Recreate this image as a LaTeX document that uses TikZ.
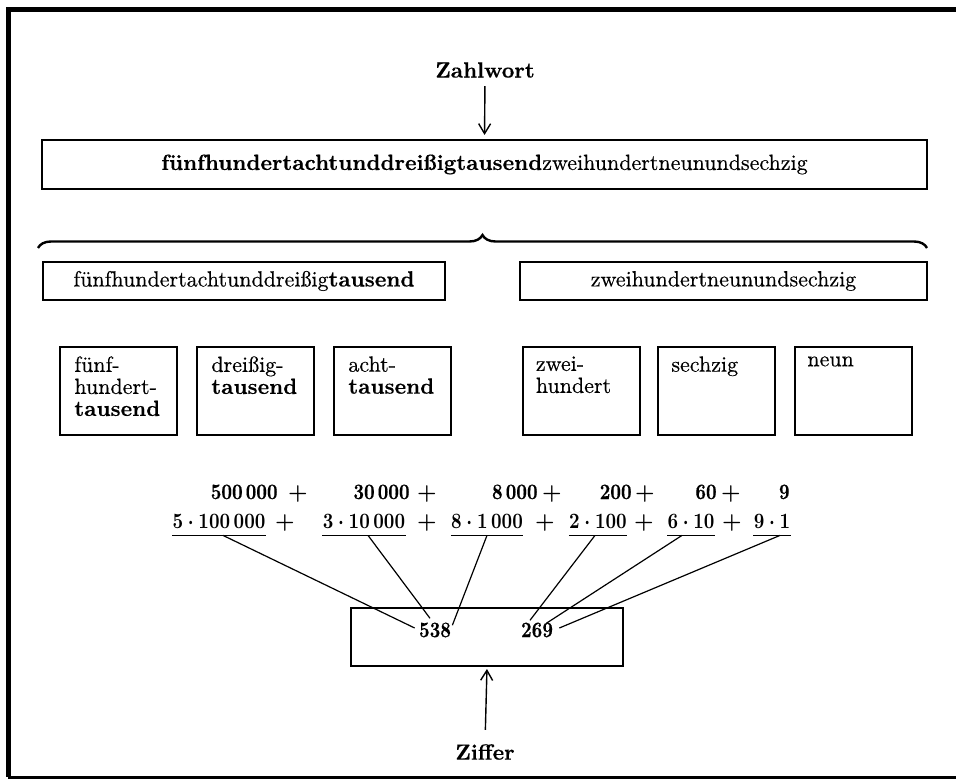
\documentclass[tikz,border=0pt]{standalone}
\usepackage{fontspec}
\newfontfamily\medf{Latin Modern Roman}[FakeBold=0.4]
\newcommand\bt[1]{{\bfseries #1}}
\newcommand\nx[1]{\scalebox{0.84}[1]{#1}}
\usetikzlibrary{arrows.meta,decorations.pathreplacing}
\begin{document}
\begin{tikzpicture}[x=0.5pt,y=-0.5pt,
  box/.style={draw,line width=1pt,inner sep=0pt},
  txt/.style={font=\medf\fontsize{11}{11}\selectfont,inner sep=0pt},
  btxt/.style={font=\medf\fontsize{11}{11}\selectfont\bfseries,inner sep=0pt},
  num/.style={font=\medf\fontsize{11}{12}\selectfont\bfseries\boldmath,inner sep=0pt},
  conn/.style={line width=0.6pt},
  uline/.style={line width=0.9pt},
  arr/.style={line width=0.7pt,-{Straight Barb[length=5pt,width=6pt]}}]
\useasboundingbox (0,0) rectangle (956,779);
% frame
\draw[line width=2.5pt] (956,10) -- (8,10) -- (8,777);
\draw[line width=1.5pt] (8,777) -- (956,777);
% top
\node[btxt] (zw) at (485,70) {Zahlwort};
\node[box,txt,minimum width=442.5pt,minimum height=24.5pt] (big) at (484.5,164.5)
  {\bt{fünfhundertachtunddreißigtausend}zweihundertneunundsechzig};
\draw[arr,shorten <=4pt,shorten >=2pt] (zw.south) -- (big.north);
% brace
\coordinate (bl) at (38,248);
\coordinate (br) at (927,248);
\draw[decorate,decoration={brace,amplitude=6.5pt},line width=1.2pt] (bl) -- (br);
% middle boxes
\node[box,txt,minimum width=201pt,minimum height=19pt] (left) at (244,281)
  {fünfhundertachtunddreißig\bt{tausend}};
\node[box,txt,minimum width=203.5pt,minimum height=19pt] (right) at (723.5,281)
  {zweihundertneunundsechzig};
% small boxes
\foreach \n/\x in {s1/118.5,s2/255.5,s3/392.5,s4/581,s5/716.5,s6/853.5}
  \node[box,minimum width=58.5pt,minimum height=44pt] (\n) at (\x,391) {};
\node[txt,anchor=north west,align=left] (w1) at ([shift={(15,10)}]s1.north west) {fünf-\\hundert-\\\bt{tausend}};
\node[txt,anchor=north west,align=left] (w2) at ([shift={(15,10)}]s2.north west) {dreißig-\\\bt{tausend}};
\node[txt,anchor=north west,align=left] (w3) at ([shift={(15,10)}]s3.north west) {acht-\\\bt{tausend}};
\node[txt,anchor=north west,align=left] (w4) at ([shift={(14,10)}]s4.north west) {zwei-\\hundert};
\node[txt,anchor=north west,align=left] (w5) at ([shift={(14,10)}]s5.north west) {sechzig};
\node[txt,anchor=north west,align=left] (w6) at ([shift={(13,10)}]s6.north west) {neun};
% row 1
\node[num,anchor=base east] (a1) at (278,499) {\nx{500\,000}};
\node[num,anchor=base] (p1) at (298,499) {$+$};
\node[num,anchor=base east] (a2) at (410,499) {\nx{30\,000}};
\node[num,anchor=base] (p2) at (427,499) {$+$};
\node[num,anchor=base east] (a3) at (538,499) {\nx{8\,000}};
\node[num,anchor=base] (p3) at (552,499) {$+$};
\node[num,anchor=base east] (a4) at (632,499) {\nx{200}};
\node[num,anchor=base] (p4) at (645,499) {$+$};
\node[num,anchor=base east] (a5) at (717,499) {\nx{60}};
\node[num,anchor=base] (p5) at (731,499) {$+$};
\node[num,anchor=base east] (a6) at (790,499) {\nx{9}};
% row 2
\node[num,anchor=base] (t1) at (219,528) {\nx{$5\cdot 100\,000$}};
\node[num,anchor=base] (q1) at (285,528) {$+$};
\node[num,anchor=base] (t2) at (364,528) {\nx{$3\cdot 10\,000$}};
\node[num,anchor=base] (q2) at (427,528) {$+$};
\node[num,anchor=base] (t3) at (487,528) {\nx{$8\cdot 1\,000$}};
\node[num,anchor=base] (q3) at (545,528) {$+$};
\node[num,anchor=base] (t4) at (598,528) {\nx{$2\cdot 100$}};
\node[num,anchor=base] (q4) at (644,528) {$+$};
\node[num,anchor=base] (t5) at (691,528) {\nx{$6\cdot 10$}};
\node[num,anchor=base] (q5) at (732,528) {$+$};
\node[num,anchor=base] (t6) at (772,528) {\nx{$9\cdot 1$}};
% underlines
\foreach \t in {t1,t2,t3,t4,t5,t6}
  \draw[uline] ([yshift=-3.5pt]\t.south west) -- ([yshift=-3.5pt]\t.south east);
\coordinate (u1) at ([shift={(4,7)}]t1.south);
\coordinate (u2) at ([shift={(4,7)}]t2.south);
\coordinate (u3) at ([shift={(0,7)}]t3.south);
\coordinate (u4) at ([shift={(-3,7)}]t4.south);
\coordinate (u5) at ([shift={(-9,7)}]t5.south);
\coordinate (u6) at ([shift={(8,7)}]t6.south);
% bottom box
\node[box,minimum width=136pt,minimum height=29pt] (zbox) at (487,637) {};
\node[num] (n538) at (435,630) {\nx{538}};
\node[num] (n269) at (537,630) {\nx{269}};
\draw[conn] (u1) -- ([shift={(-4,-2)}]n538.west);
\draw[conn] (u2) -- ([shift={(-5,-4)}]n538.north);
\draw[conn] (u3) -- ([shift={(1,3)}]n538.north east);
\draw[conn] (u4) -- ([shift={(-7,-2)}]n269.north);
\draw[conn] (u5) -- ([shift={(-7,1)}]n269.north east);
\draw[conn] (u6) -- ([shift={(6,-2)}]n269.east);
\node[btxt] (zf) at (485,752) {Ziffer};
\draw[arr,shorten <=7pt,shorten >=1pt] (zf.north) -- (zbox.south);
\end{tikzpicture}
\end{document}
